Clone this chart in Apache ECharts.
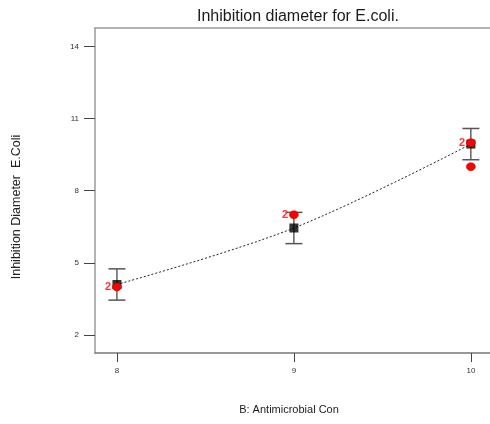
<!DOCTYPE html>
<html>
<head>
<meta charset="utf-8">
<script src="https://cdn.jsdelivr.net/npm/echarts@6/dist/echarts.min.js"></script>
<style>
  html, body { margin: 0; padding: 0; background: #fff; }
  #chart { width: 490px; height: 424px; }
</style>
</head>
<body>
<div id="chart"></div>
<script>
// Antimicrobial concentration levels (factor B)
const concentration = [8, 9, 10];
// Model prediction and its confidence band
const predicted = [4.1, 6.45, 9.94];
const lowerCI = [3.45, 5.8, 9.29];
const upperCI = [4.75, 7.1, 10.59];
// Observed design points (count = replicates sitting on the same spot)
const obsX = [8, 9, 10, 10];
const obsY = [4, 7, 10, 9];
const obsCount = [2, 2, 2, 1];
// Axis tick values
const xTicks = [8, 9, 10];
const yTicks = [2, 5, 8, 11, 14];

const FONT = 'Liberation Sans, Arial, sans-serif';
const X_MIN = 7.876, X_MAX = 10.108;

const chart = echarts.init(document.getElementById('chart'), null, { renderer: 'canvas' });

const errorData = concentration.map((c, i) => [c, lowerCI[i], upperCI[i]]);
const predData = concentration.map((c, i) => [c, predicted[i]]);
const obsData = obsX.map((x, i) => [x, obsY[i], obsCount[i]]);

chart.setOption({
  animation: false,
  backgroundColor: '#fff',
  title: {
    text: 'Inhibition diameter for E.coli.',
    left: 192,
    top: 4,
    textStyle: { fontFamily: FONT, fontSize: 16, fontWeight: 'normal', color: '#1a1a1a' }
  },
  grid: {
    left: 95, top: 28, width: 395, height: 325,
    show: false
  },
  xAxis: [
    {
      type: 'value',
      min: X_MIN, max: X_MAX,
      splitLine: { show: false },
      axisLine: { lineStyle: { color: '#777', width: 1.5 } },
      axisTick: { show: true, length: 9, customValues: xTicks, lineStyle: { color: '#444', width: 1 } },
      axisLabel: {
        customValues: xTicks, margin: 14, fontSize: 8, color: '#333', fontFamily: FONT
      }
    },
    {
      // top frame edge of the plot box
      type: 'value',
      position: 'top',
      min: X_MIN, max: X_MAX,
      splitLine: { show: false },
      axisLine: { show: true, lineStyle: { color: '#9a9a9a', width: 1.5 } },
      axisTick: { show: false },
      axisLabel: { show: false }
    }
  ],
  yAxis: {
    type: 'value',
    min: 1.25, max: 14.77,
    splitLine: { show: false },
    axisLine: { show: true, lineStyle: { color: '#9a9a9a', width: 1.5 } },
    axisTick: { show: true, length: 11, customValues: yTicks, lineStyle: { color: '#444', width: 1 } },
    axisLabel: {
      customValues: yTicks, margin: 16, fontSize: 8, color: '#333', fontFamily: FONT
    }
  },
  graphic: [
    {
      type: 'text',
      x: 17, y: 207,
      rotation: Math.PI / 2,
      style: {
        text: 'Inhibition Diameter  E.Coli',
        fontFamily: FONT, fontSize: 12.5, fill: '#222',
        textAlign: 'center', textVerticalAlign: 'middle'
      }
    },
    {
      type: 'text',
      x: 289, y: 410,
      style: {
        text: 'B: Antimicrobial Con',
        fontFamily: FONT, fontSize: 11, fill: '#222',
        textAlign: 'center', textVerticalAlign: 'middle'
      }
    }
  ],
  series: [
    {
      // fitted response curve
      type: 'line',
      data: predData,
      smooth: 0.35,
      symbol: 'none',
      lineStyle: { color: '#222', width: 1, type: [2, 2] },
      z: 2
    },
    {
      // confidence interval bars
      type: 'custom',
      data: errorData,
      z: 3,
      renderItem: function (params, api) {
        const x = api.value(0);
        const lo = api.coord([x, api.value(1)]);
        const hi = api.coord([x, api.value(2)]);
        const half = 8.5;
        return {
          type: 'group',
          children: [
            { type: 'line', shape: { x1: lo[0], y1: lo[1], x2: hi[0], y2: hi[1] },
              style: { stroke: '#111', lineWidth: 1 } },
            { type: 'line', shape: { x1: hi[0] - half, y1: hi[1], x2: hi[0] + half, y2: hi[1] },
              style: { stroke: '#555', lineWidth: 1.5 } },
            { type: 'line', shape: { x1: lo[0] - half, y1: lo[1], x2: lo[0] + half, y2: lo[1] },
              style: { stroke: '#555', lineWidth: 1.5 } }
          ]
        };
      }
    },
    {
      // predicted values
      type: 'scatter',
      data: predData,
      symbol: 'rect',
      symbolSize: 9,
      itemStyle: { color: '#000' },
      z: 4
    },
    {
      // observed runs
      type: 'scatter',
      data: obsData,
      symbol: 'circle',
      symbolSize: [9, 8],
      itemStyle: { color: '#ff0000', borderColor: '#b00000', borderWidth: 0.5, opacity: 1 },
      label: {
        show: true,
        position: 'left',
        distance: 1,
        formatter: p => (p.value[2] > 1 ? String(p.value[2]) : ''),
        color: '#ff3333',
        fontSize: 11,
        fontWeight: 'bold',
        fontFamily: FONT
      },
      z: 5
    }
  ]
});
</script>
</body>
</html>
